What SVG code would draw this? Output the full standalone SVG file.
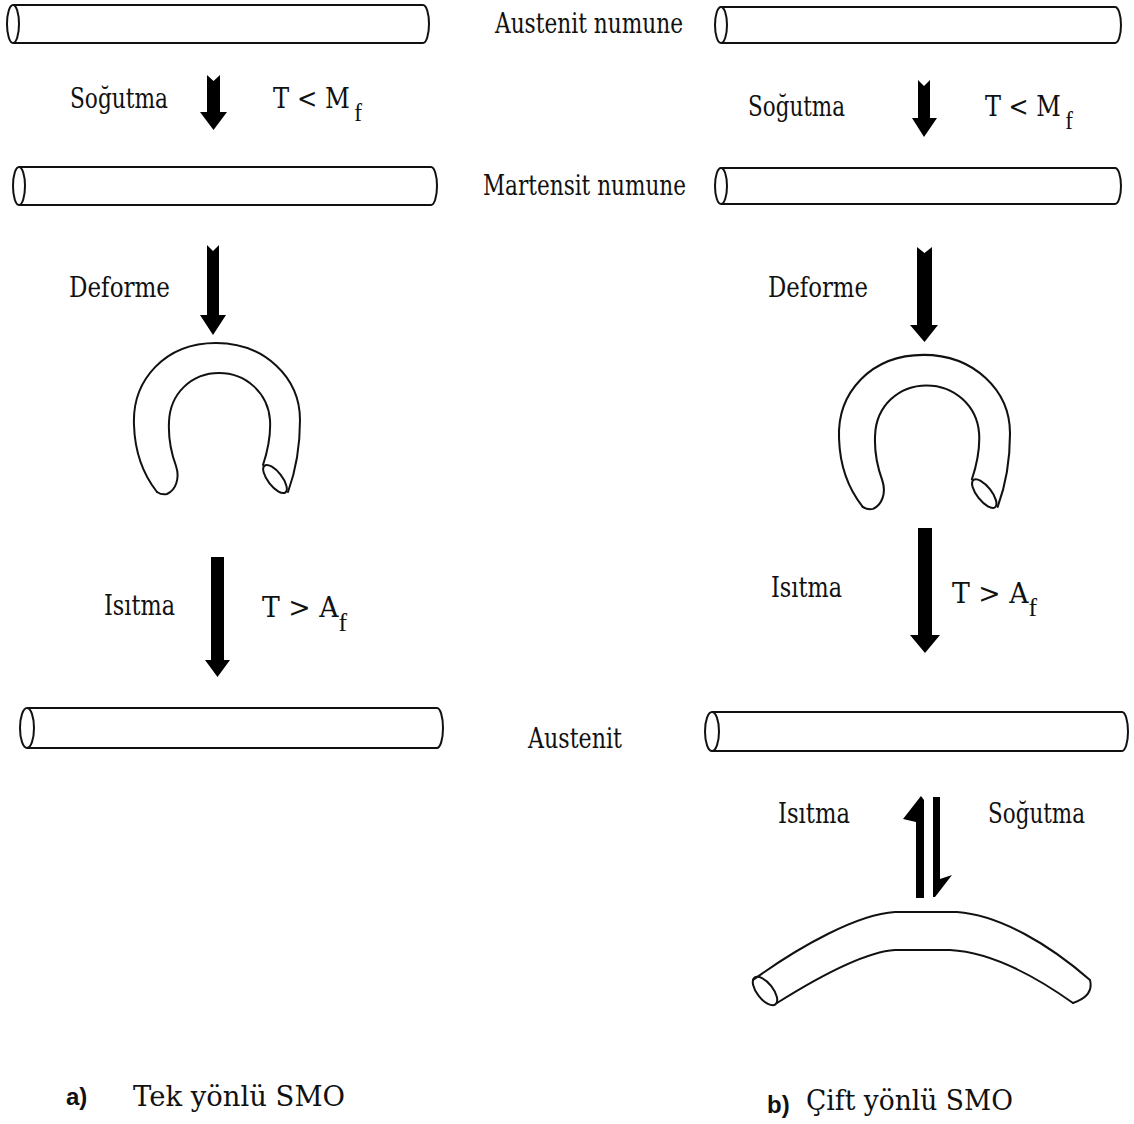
<svg xmlns="http://www.w3.org/2000/svg" width="1134" height="1124" viewBox="0 0 1134 1124">
  <style>
    .rod { fill: #fff; stroke: #111; stroke-width: 2; }
    .shape { fill: none; stroke: #111; stroke-width: 2; stroke-linejoin: round; stroke-linecap: round; }
    .arrow { fill: #000; stroke: none; }
    .lbl { font-family: "DejaVu Serif", "Liberation Serif", serif; font-size: 27px; fill: #111; }
    .sub { font-family: "Liberation Serif", "DejaVu Serif", serif; font-size: 26px; }
    .tag { font-family: "Liberation Sans", Arial, sans-serif; font-weight: bold; font-size: 24px; fill: #111; }
  </style>
  <rect width="1134" height="1124" fill="#fff"/>

  <!-- Left column: one-way shape memory -->
  <g id="rod-austenite-a">
    <path class="rod" d="M13 5 L423 5 A6 19 0 0 1 423 43 L13 43"/>
    <ellipse class="rod" cx="13" cy="24" rx="6" ry="19"/>
  </g>
  <g id="rod-martensite-a">
    <path class="rod" d="M19 167 L431 167 A6 19 0 0 1 431 205 L19 205"/>
    <ellipse class="rod" cx="19" cy="186" rx="6" ry="19"/>
  </g>
  <g id="horseshoe-a">
    <path class="shape" d="M157 492 C146 478 135 458 134 425 C132 380 165 343 216 343 C265 343 300 378 300 420 C300 445 296 470 288 492"/>
    <path class="shape" d="M263 465 C268 450 271 437 270 420 C268 393 246 373 219 373 C192 373 170 393 169 422 C168 442 172 455 176 466 C180 478 176 490 167 494 C163 495 160 494 157 492"/>
    <ellipse class="shape" cx="275" cy="479" rx="17" ry="7" transform="rotate(52 275 479)"/>
  </g>
  <g id="rod-austenite-a-final">
    <path class="rod" d="M27 708 L437 708 A6 20 0 0 1 437 748 L27 748"/>
    <ellipse class="rod" cx="27" cy="728" rx="7" ry="20"/>
  </g>

  <!-- Right column: two-way shape memory -->
  <g id="rod-austenite-b">
    <path class="rod" d="M721 7 L1115 7 A6 18 0 0 1 1115 43 L721 43"/>
    <ellipse class="rod" cx="721" cy="25" rx="6" ry="18"/>
  </g>
  <g id="rod-martensite-b">
    <path class="rod" d="M721 168 L1115 168 A6 18 0 0 1 1115 204 L721 204"/>
    <ellipse class="rod" cx="721" cy="186" rx="6" ry="18"/>
  </g>
  <g id="horseshoe-b" transform="translate(838 5) scale(1.03 1.02) translate(-133 0)">
    <path class="shape" d="M157 492 C146 478 135 458 134 425 C132 380 165 343 216 343 C265 343 300 378 300 420 C300 445 296 470 288 492"/>
    <path class="shape" d="M263 465 C268 450 271 437 270 420 C268 393 246 373 219 373 C192 373 170 393 169 422 C168 442 172 455 176 466 C180 478 176 490 167 494 C163 495 160 494 157 492"/>
    <ellipse class="shape" cx="275" cy="479" rx="17" ry="7" transform="rotate(52 275 479)"/>
  </g>
  <g id="rod-austenite-b-final">
    <path class="rod" d="M712 712 L1122 712 A6 19.5 0 0 1 1122 751 L712 751"/>
    <ellipse class="rod" cx="712" cy="731.5" rx="7" ry="19.5"/>
  </g>
  <g id="bent-rod-b">
    <path class="shape" d="M753 980 C800 946 858 914 895 912 L957 912 C1000 915 1050 945 1090 980 Q1094 996 1073 1003"/>
    <path class="shape" d="M777 1003 C820 976 864 952 895 950 L950 950 C990 952 1035 976 1073 1003"/>
    <ellipse class="shape" cx="765" cy="991" rx="17" ry="8" transform="rotate(52 765 991)"/>
  </g>

  <!-- Block arrows between states -->
  <g id="connectors">
    <polygon class="arrow" points="207,75 213.5,81 220,75 220,112 227,112 213.5,130 200,112 207,112"/>
    <polygon class="arrow" points="918,80 924,86 930,80 930,118 937,118 924,137 912,118 918,118"/>
    <polygon class="arrow" points="207,245 213,251 219,245 219,315 226,315 213,335 200,315 207,315"/>
    <polygon class="arrow" points="917,247 924.5,253 932,247 932,325 938,325 924.5,342 910,325 917,325"/>
    <polygon class="arrow" points="211,557 224,557 224,660 230,660 217.5,677 205,660 211,660"/>
    <polygon class="arrow" points="918,528 932,528 932,635 940,635 925,653 910,635 918,635"/>
    <polygon class="arrow" points="921,796 924,800 924,898 916,898 916,822 903,819"/>
    <polygon class="arrow" points="933,797 940,797 940,879 952,875 935,897 933,897"/>
  </g>

  <!-- Labels -->
  <g id="labels">
    <text class="lbl" x="495" y="33" textLength="188" lengthAdjust="spacingAndGlyphs">Austenit numune</text>
    <text class="lbl" x="483" y="195" textLength="203" lengthAdjust="spacingAndGlyphs">Martensit numune</text>
    <text class="lbl" x="528" y="748" textLength="94" lengthAdjust="spacingAndGlyphs">Austenit</text>

    <text class="lbl" x="70" y="108" textLength="98" lengthAdjust="spacingAndGlyphs">Soğutma</text>
    <text class="lbl" x="273" y="108" textLength="89" lengthAdjust="spacingAndGlyphs">T &lt; M<tspan class="sub" dx="5" dy="13">f</tspan></text>
    <text class="lbl" x="69" y="297" textLength="101" lengthAdjust="spacingAndGlyphs">Deforme</text>
    <text class="lbl" x="104" y="615" textLength="71" lengthAdjust="spacingAndGlyphs">Isıtma</text>
    <text class="lbl" x="262" y="617" textLength="85" lengthAdjust="spacingAndGlyphs">T &gt; A<tspan class="sub" dy="14">f</tspan></text>

    <text class="lbl" x="748" y="116" textLength="97" lengthAdjust="spacingAndGlyphs">Soğutma</text>
    <text class="lbl" x="985" y="116" textLength="88" lengthAdjust="spacingAndGlyphs">T &lt; M<tspan class="sub" dx="5" dy="13">f</tspan></text>
    <text class="lbl" x="768" y="297" textLength="100" lengthAdjust="spacingAndGlyphs">Deforme</text>
    <text class="lbl" x="771" y="597" textLength="71" lengthAdjust="spacingAndGlyphs">Isıtma</text>
    <text class="lbl" x="952" y="603" textLength="85" lengthAdjust="spacingAndGlyphs">T &gt; A<tspan class="sub" dy="13">f</tspan></text>
    <text class="lbl" x="778" y="823" textLength="72" lengthAdjust="spacingAndGlyphs">Isıtma</text>
    <text class="lbl" x="988" y="823" textLength="97" lengthAdjust="spacingAndGlyphs">Soğutma</text>

    <text class="tag" x="66" y="1105">a)</text>
    <text class="lbl" x="133" y="1106" textLength="212" lengthAdjust="spacingAndGlyphs">Tek  yönlü  SMO</text>
    <text class="tag" x="767" y="1113">b)</text>
    <text class="lbl" x="806" y="1110" textLength="207" lengthAdjust="spacingAndGlyphs">Çift yönlü SMO</text>
  </g>
</svg>
